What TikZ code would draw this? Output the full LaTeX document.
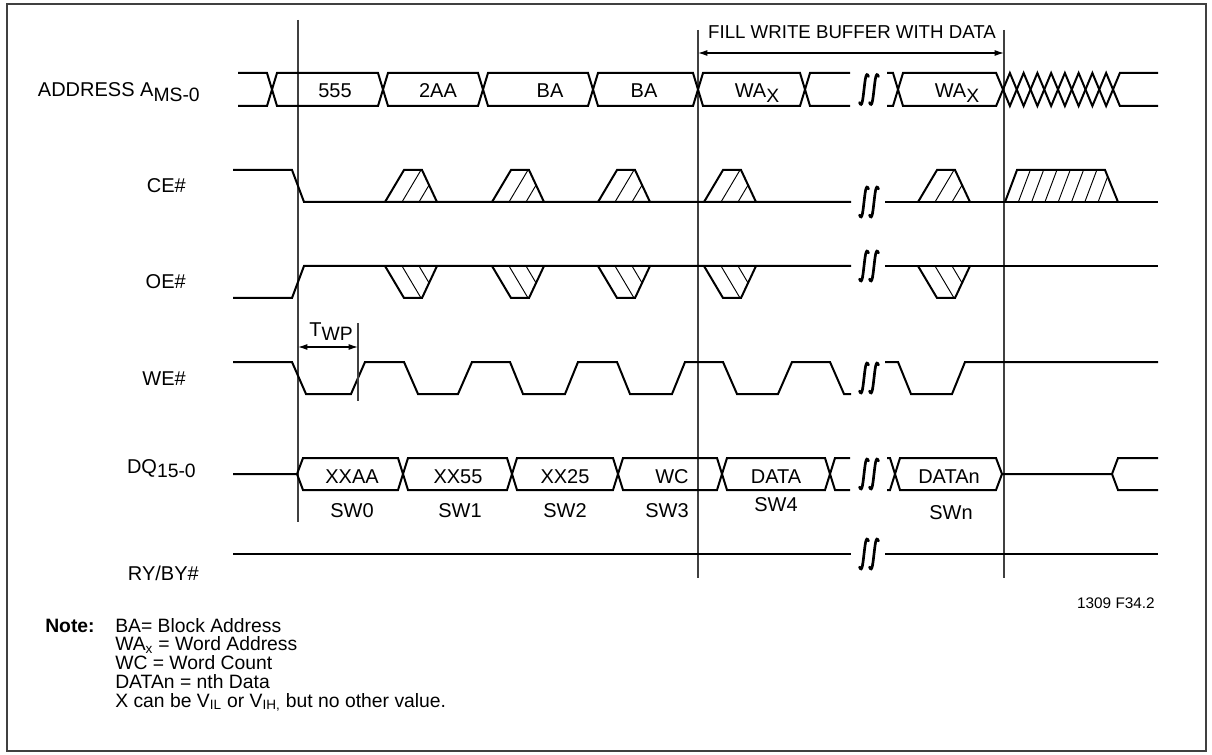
\documentclass[tikz,border=0pt]{standalone}
\usepackage{fontspec}
\setmainfont{Liberation Sans}
\usetikzlibrary{arrows.meta}
\newcommand{\lsub}[1]{\raisebox{-3.5pt}{\fontsize{14.5}{14.5}\selectfont #1}}

\begin{document}
\begin{tikzpicture}[x=0.75pt,y=-0.75pt,
	sig/.style={line width=1.5pt},
	vref/.style={line width=0.9pt, black!75},
	hatchln/.style={line width=0.7pt},
	brkln/.style={line width=2pt, line cap=round},
	lbl/.style={font=\fontsize{15}{17}\selectfont, inner sep=0pt},
	notetxt/.style={font=\fontsize{14.5}{16}\selectfont, inner sep=0pt},
	>={Latex[length=7pt,width=4.5pt]},
	gapmark/.pic={
		\foreach \dx in {-5,5}
			\draw[brkln] (\dx-4.5,13) .. controls (\dx-2,19) and (\dx-1.2,10) .. (\dx,0)
				.. controls (\dx+1.2,-10) and (\dx+2,-19) .. (\dx+4.5,-13);
	},
	hatchbump/.pic={
		\begin{scope}
			\clip (0,0) -- (19,-32) -- (37,-32) -- (52,0) -- cycle;
			\foreach \d in {17,34}
				\draw[hatchln] (\d,0) -- (\d+19,-32);
		\end{scope}
		\draw[sig] (0,0) -- (19,-32) -- (37,-32) -- (52,0);
	}]
	\useasboundingbox (0,0) rectangle (1212,755);
	\draw[line width=1pt, black!75] (7,4) rectangle (1206,751);

	% signal names
	\node[lbl, anchor=base east] (addr) at (200,97) {ADDRESS A\lsub{MS-0}};
	\node[lbl, anchor=base east] (ce) at (186,193) {CE\#};
	\node[lbl, anchor=base east] (oe) at (186,289) {OE\#};
	\node[lbl, anchor=base east] (we) at (186,385) {WE\#};
	\node[lbl, anchor=base east] (dq) at (196,473) {DQ\lsub{15-0}};
	\node[lbl, anchor=base east] (ry) at (199,580) {RY/BY\#};

	% reference lines
	\coordinate (v1t) at (298,20);
	\coordinate (v1b) at (298,522);
	\coordinate (v2t) at (698,30);
	\coordinate (v2b) at (698,578);
	\coordinate (v3t) at (1004,30);
	\coordinate (v3b) at (1004,578);
	\draw[vref] (v1t) -- (v1b);
	\draw[vref] (v2t) -- (v2b);
	\draw[vref] (v3t) -- (v3b);

	\coordinate (fillL) at (698,53);
	\coordinate (fillR) at (1004,53);
	\draw[<->, line width=0.9pt] (fillL) -- (fillR);
	\node[lbl, font=\fontsize{14}{16}\selectfont, anchor=base] (fill) at (852,39) {FILL WRITE BUFFER WITH DATA};

	% address bus
	\draw[sig] (238,73) -- (267,73) -- (277,106) -- (378,106) -- (388,73) -- (478,73) -- (488,106)
		-- (588,106) -- (598,73) -- (693,73) -- (703,106) -- (800,106) -- (810,73) -- (850,73);
	\draw[sig] (238,106) -- (267,106) -- (277,73) -- (378,73) -- (388,106) -- (478,106) -- (488,73)
		-- (588,73) -- (598,106) -- (693,106) -- (703,73) -- (800,73) -- (810,106) -- (850,106);
	\draw[sig] (887,73) -- (893,73) -- (903,106) -- (996.125,106)
		\foreach \j in {1,...,9} { -- ({996.125+13.75*\j},{89.5+16.5*cos(180*\j)}) } -- (1158,73);
	\draw[sig] (887,106) -- (893,106) -- (903,73) -- (996.125,73)
		\foreach \j in {1,...,9} { -- ({996.125+13.75*\j},{89.5-16.5*cos(180*\j)}) } -- (1158,106);
	\node[lbl, anchor=base] (a555) at (335,98) {555};
	\node[lbl, anchor=base] (a2aa) at (438,98) {2AA};
	\node[lbl, anchor=base] (aba1) at (550,98) {BA};
	\node[lbl, anchor=base] (aba2) at (644,98) {BA};
	\node[lbl, anchor=base] (awa1) at (757,98) {WA\lsub{X}};
	\node[lbl, anchor=base] (awa2) at (957,98) {WA\lsub{X}};

	% CE#
	\draw[sig] (233,170) -- (292,170) -- (304,202) -- (851,202);
	\draw[sig] (885,202) -- (1158,202);
	\foreach \bx in {385,492,598,704,918}
		\pic at (\bx,202) {hatchbump};
	\begin{scope}
		\clip (1005,202) -- (1017,170) -- (1105,170) -- (1118,202) -- cycle;
		\foreach \k in {1,...,7}
			\draw[hatchln] ({1005+13.3*\k},202) -- ({1017+13.3*\k},170);
	\end{scope}
	\draw[sig] (1005,202) -- (1017,170) -- (1105,170) -- (1118,202);

	% OE#
	\draw[sig] (233,298) -- (292,298) -- (304,266) -- (851,266);
	\draw[sig] (885,266) -- (1158,266);
	\foreach \bx in {385,492,598,704,918}
		\pic[yscale=-1] at (\bx,266) {hatchbump};

	% WE#
	\draw[sig] (233,362) -- (292,362) -- (306,394) -- (351,394) -- (365,362) -- (404,362) -- (418,394)
		-- (458,394) -- (472,362) -- (510,362) -- (523,394) -- (565,394) -- (578,362) -- (617,362)
		-- (630,394) -- (672,394) -- (685,362) -- (723,362) -- (737,394) -- (778,394) -- (792,362)
		-- (830,362) -- (844,394) -- (851,394);
	\draw[sig] (885,362) -- (898,362) -- (911,394) -- (952,394) -- (965,362) -- (1158,362);
	\coordinate (twpt) at (358,323);
	\coordinate (twpb) at (358,401);
	\draw[vref] (twpt) -- (twpb);
	\coordinate (twpL) at (298,347);
	\coordinate (twpR) at (358,347);
	\draw[<->, line width=0.9pt] (twpL) -- (twpR);
	\node[lbl, anchor=base] (twp) at (331,336) {T\lsub{WP}};

	% DQ
	\draw[sig] (297,474) -- (303,458) -- (398,458) -- (408,490) -- (507,490) -- (517,458) -- (613,458)
		-- (623,490) -- (717,490) -- (727,458) -- (825,458) -- (835,490) -- (850,490);
	\draw[sig] (233,474) -- (297,474) -- (303,490) -- (398,490) -- (408,458) -- (507,458) -- (517,490)
		-- (613,490) -- (623,458) -- (717,458) -- (727,490) -- (825,490) -- (835,458) -- (850,458);
	\draw[sig] (887,490) -- (890,490) -- (900,458) -- (996,458) -- (1002,474) -- (1112,474)
		-- (1118,458) -- (1158,458);
	\draw[sig] (887,458) -- (890,458) -- (900,490) -- (996,490) -- (1002,474);
	\draw[sig] (1112,474) -- (1118,490) -- (1158,490);
	\node[lbl, anchor=base] (dxxaa) at (352,483) {XXAA};
	\node[lbl, anchor=base] (dxx55) at (458,483) {XX55};
	\node[lbl, anchor=base] (dxx25) at (565,483) {XX25};
	\node[lbl, anchor=base] (dwc) at (672,483) {WC};
	\node[lbl, anchor=base] (ddata) at (776,483) {DATA};
	\node[lbl, anchor=base] (ddatan) at (949,483) {DATAn};
	\node[lbl, anchor=base] (sw0) at (352,517) {SW0};
	\node[lbl, anchor=base] (sw1) at (460,517) {SW1};
	\node[lbl, anchor=base] (sw2) at (565,517) {SW2};
	\node[lbl, anchor=base] (sw3) at (667,517) {SW3};
	\node[lbl, anchor=base] (sw4) at (776,511) {SW4};
	\node[lbl, anchor=base] (swn) at (951,519) {SWn};

	% RY/BY#
	\draw[sig] (233,554) -- (851,554);
	\draw[sig] (885,554) -- (1158,554);

	% breaks
	\foreach \gy in {89.5,202,266,378,474,554}
		\pic at (869,\gy) {gapmark};

	\node[lbl, font=\fontsize{11.5}{13}\selectfont, anchor=base east] (figid) at (1155,608) {1309 F34.2};

	% note
	\node[notetxt, font=\fontsize{14.5}{16}\selectfont\bfseries, anchor=base west] (notehd) at (45,632) {Note:};
	\foreach \txt [count=\i from 0] in {BA= Block Address, WA\textsubscript{x} = Word Address,
		WC = Word Count, DATAn = nth Data, {X can be V\textsubscript{IL} or V\textsubscript{IH,} but no other value.}}
		\node[notetxt, anchor=base west] (note\i) at (115,{632+18.75*\i}) {\txt};
\end{tikzpicture}
\end{document}
